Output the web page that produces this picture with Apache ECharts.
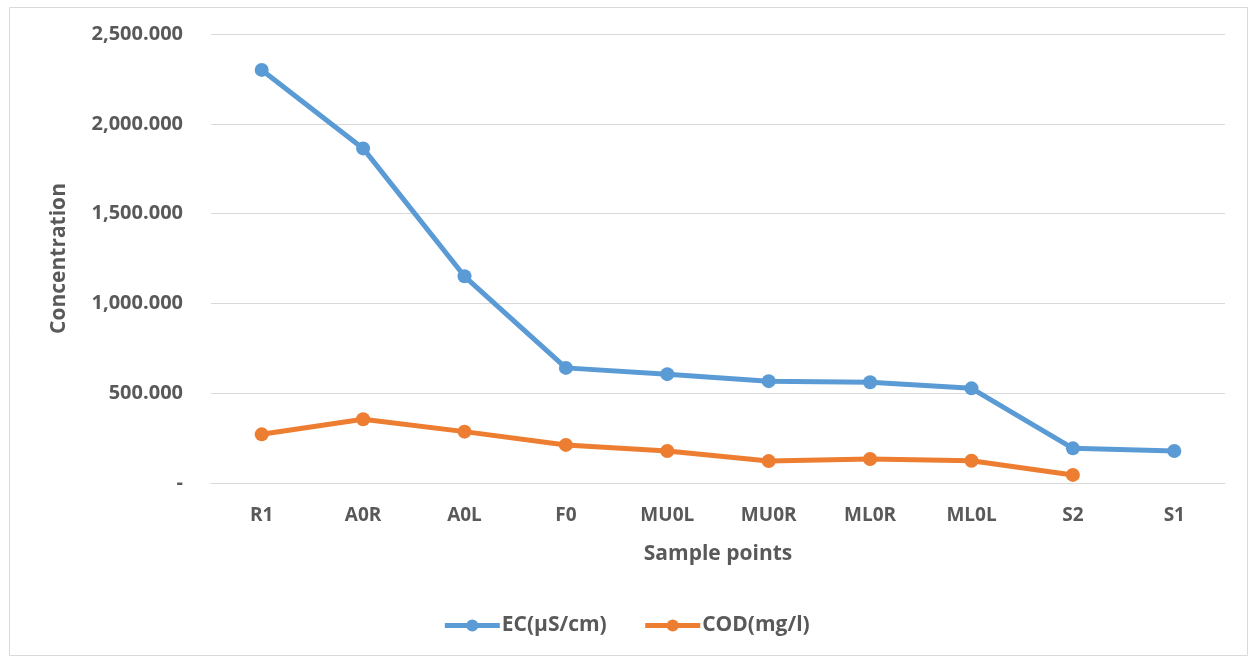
<!DOCTYPE html>
<html>
<head>
<meta charset="utf-8">
<script src="https://cdn.jsdelivr.net/npm/echarts@6/dist/echarts.min.js"></script>
<style>
html,body{margin:0;padding:0;background:#fff;}
#chart{width:1252px;height:659px;}
</style>
</head>
<body>
<div id="chart"></div>
<script>
const categories = ['R1','A0R','A0L','F0','MU0L','MU0R','ML0R','ML0L','S2','S1'];
const ecValues = [2300, 1863, 1151, 641, 606, 567, 561, 527, 193, 178];
const codValues = [271, 355, 286, 212, 178, 122, 134, 124, 45, null];
const seriesNames = ['EC(µS/cm)', 'COD(mg/l)'];
const yTicks = { min: 0, max: 2500, interval: 500 };

const FONT = '"Open Sans", "Noto Sans", sans-serif';
const TXT = '#595959';
const chart = echarts.init(document.getElementById('chart'), null, {renderer: 'canvas'});
function fmt(v) {
  if (v === 0) return '-';
  return v.toLocaleString('en-US', {minimumFractionDigits: 3, maximumFractionDigits: 3});
}
chart.setOption({
  backgroundColor: '#fff',
  animation: false,
  graphic: [{
    type: 'rect', left: 7, top: 5,
    shape: {width: 1238, height: 648},
    style: {fill: 'none', stroke: '#D9D9D9', lineWidth: 1}
  }],
  grid: {left: 211, right: 27, top: 34, bottom: 176, containLabel: false},
  legend: {
    data: seriesNames,
    bottom: 18,
    left: 'center',
    itemWidth: 55,
    itemHeight: 15,
    itemGap: 36,
    lineStyle: {width: 5},
    textStyle: {fontFamily: FONT, fontWeight: 'bold', fontSize: 21, color: TXT, padding: [0,0,0,-3]}
  },
  xAxis: {
    type: 'category',
    data: categories,
    boundaryGap: true,
    name: 'Sample points',
    nameLocation: 'middle',
    nameGap: 61,
    nameTextStyle: {fontFamily: FONT, fontWeight: 'bold', fontSize: 21, color: TXT},
    axisLine: {show: true, lineStyle: {color: '#D9D9D9', width: 1}},
    axisTick: {show: false},
    axisLabel: {fontFamily: FONT, fontWeight: 'bold', fontSize: 19, color: TXT, margin: 23}
  },
  yAxis: {
    type: 'value',
    min: yTicks.min, max: yTicks.max, interval: yTicks.interval,
    name: 'Concentration',
    nameLocation: 'middle',
    nameGap: 141,
    nameRotate: 90,
    nameTextStyle: {fontFamily: FONT, fontWeight: 'bold', fontSize: 21, color: TXT},
    axisLine: {show: false},
    axisTick: {show: false},
    splitLine: {lineStyle: {color: '#D9D9D9', width: 1}},
    axisLabel: {fontFamily: FONT, fontWeight: 'bold', fontSize: 20, color: TXT, margin: 28, formatter: fmt}
  },
  series: [
    {
      name: seriesNames[0], type: 'line', data: ecValues,
      symbol: 'circle', symbolSize: 14,
      lineStyle: {color: '#5B9BD5', width: 5},
      itemStyle: {color: '#5B9BD5'}
    },
    {
      name: seriesNames[1], type: 'line', data: codValues,
      symbol: 'circle', symbolSize: 14,
      lineStyle: {color: '#ED7D31', width: 5},
      itemStyle: {color: '#ED7D31'}
    }
  ]
});
</script>
</body>
</html>
